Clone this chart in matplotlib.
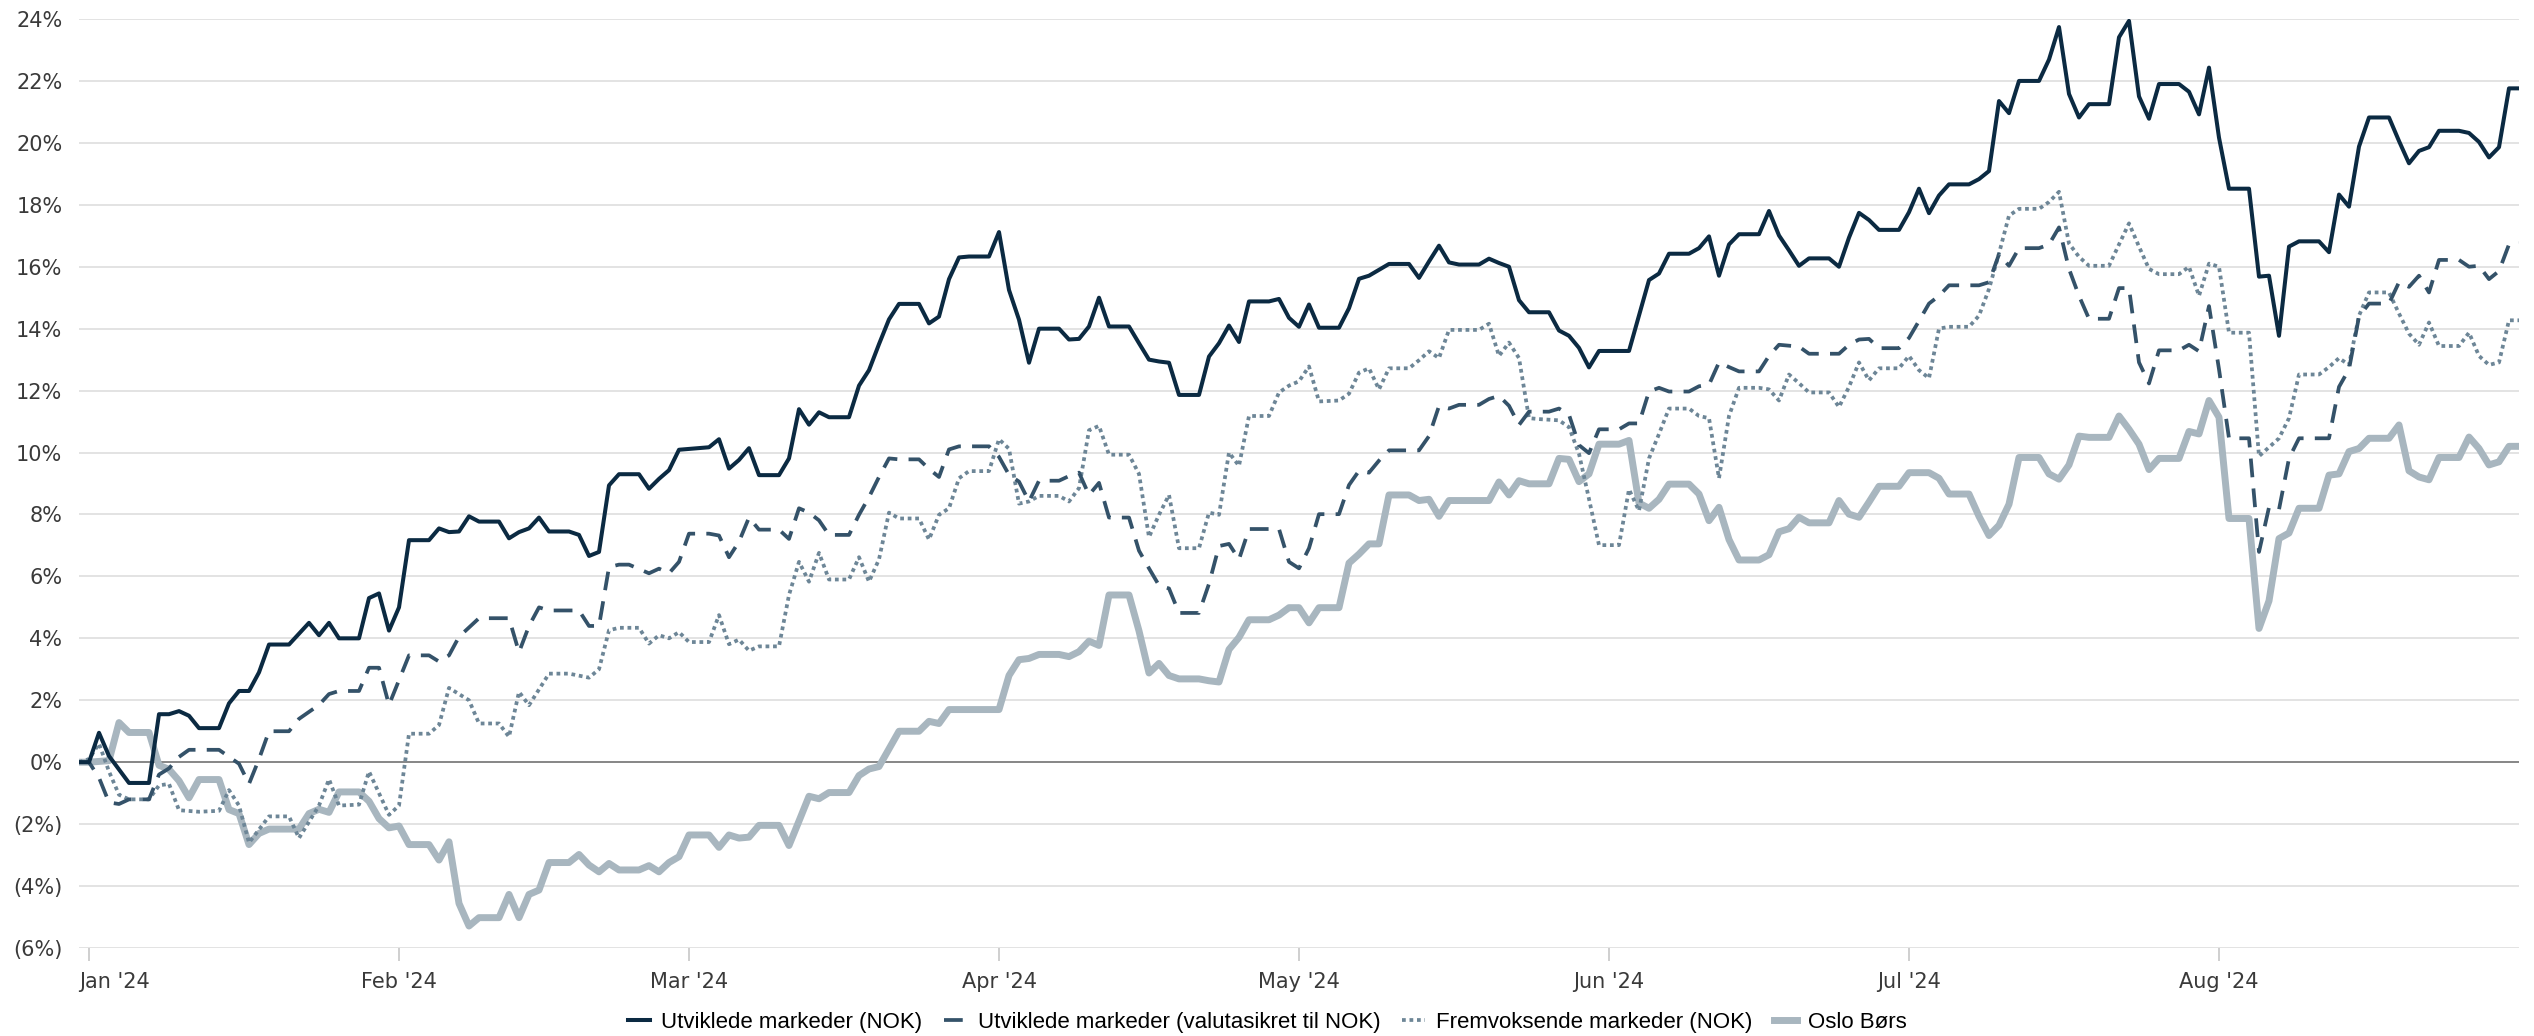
import numpy as np
import matplotlib
matplotlib.use("Agg")
import matplotlib.pyplot as plt
import matplotlib.dates as mdates
from matplotlib.ticker import FuncFormatter
from matplotlib.transforms import ScaledTranslation

# days counted from 1 Jan 2024, values in percent
utv_days = [-1, 0, 1, 2, 4, 6, 7, 8, 9, 10, 11, 13, 14, 15, 16, 17, 18, 20, 21, 22, 23, 24, 25, 27,
            28, 29, 30, 31, 32, 34, 35, 36, 37, 38, 39, 41, 42, 43, 44, 45, 46, 48, 49, 50, 51, 52,
            53, 55, 56, 57, 58, 59, 62, 63, 64, 65, 66, 67, 69, 70, 71, 72, 73, 74, 76, 77, 78, 79,
            80, 81, 83, 84, 85, 86, 87, 88, 90, 91, 92, 93, 94, 95, 97, 98, 99, 100, 101, 102, 104,
            105, 106, 107, 108, 109, 111, 112, 113, 114, 115, 116, 118, 119, 120, 121, 122, 123,
            125, 126, 127, 128, 129, 130, 132, 133, 134, 135, 136, 137, 139, 140, 141, 142, 143,
            144, 146, 147, 148, 149, 150, 151, 154, 155, 156, 157, 158, 160, 161, 162, 163, 164,
            165, 167, 168, 169, 170, 171, 172, 174, 175, 176, 177, 178, 179, 181, 182, 183, 184,
            185, 186, 188, 189, 190, 191, 192, 193, 195, 196, 197, 198, 199, 200, 202, 203, 204,
            205, 206, 207, 209, 210, 211, 212, 213, 214, 216, 217, 218, 219, 220, 221, 223, 224,
            225, 226, 227, 228, 230, 231, 232, 233, 234, 235, 237, 238, 239, 240, 241, 242, 243]
utv_vals = [0, 0, 0.95, 0.2, -0.67, -0.67, 1.55, 1.55, 1.65, 1.5, 1.1, 1.1, 1.9, 2.3, 2.3, 2.9, 3.8,
            3.8, 4.15, 4.5, 4.1, 4.5, 4.0, 4.0, 5.3, 5.45, 4.25, 5.0, 7.17, 7.17, 7.55, 7.43, 7.45,
            7.94, 7.77, 7.77, 7.23, 7.43, 7.55, 7.9, 7.45, 7.45, 7.34, 6.66, 6.79, 8.94, 9.3, 9.3,
            8.83, 9.15, 9.43, 10.09, 10.17, 10.43, 9.48, 9.76, 10.14, 9.27, 9.27, 9.81, 11.4, 10.9,
            11.3, 11.14, 11.14, 12.16, 12.66, 13.5, 14.3, 14.8, 14.8, 14.17, 14.39, 15.6, 16.3,
            16.33, 16.33, 17.12, 15.25, 14.29, 12.9, 14.0, 14.0, 13.65, 13.67, 14.07, 15.0, 14.07,
            14.07, 13.53, 13.0, 12.94, 12.9, 11.86, 11.86, 13.1, 13.53, 14.1, 13.57, 14.88, 14.88,
            14.96, 14.35, 14.06, 14.78, 14.03, 14.03, 14.66, 15.61, 15.71, 15.9, 16.09, 16.09,
            15.64, 16.17, 16.68, 16.14, 16.07, 16.07, 16.26, 16.12, 16.0, 14.92, 14.53, 14.53,
            13.94, 13.77, 13.38, 12.75, 13.28, 13.28, 14.42, 15.57, 15.78, 16.42, 16.42, 16.6,
            16.98, 15.71, 16.72, 17.05, 17.05, 17.8, 17.01, 16.53, 16.03, 16.27, 16.27, 16.0,
            16.94, 17.74, 17.51, 17.19, 17.19, 17.76, 18.52, 17.73, 18.3, 18.66, 18.66, 18.83,
            19.09, 21.35, 20.96, 22.0, 22.0, 22.69, 23.74, 21.58, 20.82, 21.25, 21.25, 23.41,
            23.94, 21.5, 20.78, 21.9, 21.9, 21.65, 20.92, 22.43, 20.17, 18.52, 18.52, 15.68,
            15.71, 13.77, 16.65, 16.82, 16.82, 16.47, 18.33, 17.94, 19.88, 20.82, 20.82, 20.06,
            19.34, 19.74, 19.86, 20.39, 20.39, 20.32, 20.03, 19.53, 19.86, 21.76, 21.76]

hed_days = [-1, 0, 1, 2, 3, 4, 6, 7, 8, 9, 10, 13, 15, 16, 17, 18, 20, 21, 23, 24, 25, 27, 28, 29,
            30, 32, 34, 35, 36, 37, 39, 42, 43, 44, 45, 46, 49, 50, 51, 52, 53, 54, 56, 57, 58, 59,
            60, 62, 63, 64, 65, 66, 67, 69, 70, 71, 72, 73, 74, 76, 77, 78, 79, 80, 81, 83, 84, 85,
            86, 87, 90, 91, 92, 93, 94, 95, 97, 98, 99, 100, 101, 102, 104, 105, 106, 107, 108,
            109, 111, 112, 113, 114, 115, 116, 119, 120, 121, 122, 123, 125, 126, 127, 128, 129,
            130, 133, 134, 135, 136, 137, 139, 140, 141, 142, 143, 144, 146, 147, 148, 149, 150,
            151, 153, 154, 155, 156, 157, 158, 160, 161, 162, 163, 164, 165, 167, 168, 169, 171,
            172, 175, 176, 177, 178, 179, 181, 182, 183, 184, 185, 186, 189, 190, 191, 192, 193,
            195, 196, 197, 198, 199, 200, 202, 203, 204, 205, 206, 207, 209, 210, 211, 212, 213,
            214, 216, 217, 218, 219, 220, 221, 224, 225, 226, 227, 228, 230, 231, 232, 233, 234,
            235, 237, 238, 239, 240, 241, 242, 243]
hed_vals = [0, 0, -0.5, -1.3, -1.35, -1.2, -1.2, -0.4, -0.2, 0.17, 0.4, 0.4, -0.05, -0.7, 0.1, 1.0,
            1.0, 1.4, 1.85, 2.2, 2.3, 2.3, 3.05, 3.05, 1.85, 3.45, 3.45, 3.25, 3.45, 4.05, 4.65,
            4.65, 3.55, 4.4, 5.0, 4.9, 4.9, 4.4, 4.4, 6.3, 6.38, 6.38, 6.1, 6.25, 6.1, 6.47, 7.38,
            7.38, 7.32, 6.62, 7.12, 7.9, 7.51, 7.51, 7.21, 8.2, 8.06, 7.81, 7.34, 7.34, 7.99, 8.56,
            9.21, 9.81, 9.78, 9.78, 9.47, 9.21, 10.1, 10.2, 10.2, 9.86, 9.28, 9.06, 8.42, 9.09,
            9.09, 9.24, 9.35, 8.63, 9.02, 7.9, 7.9, 6.83, 6.26, 5.71, 5.61, 4.82, 4.82, 5.76, 6.98,
            7.05, 6.55, 7.53, 7.53, 6.47, 6.26, 6.91, 8.01, 8.01, 8.95, 9.41, 9.35, 9.74, 10.07,
            10.07, 10.53, 11.5, 11.42, 11.54, 11.54, 11.73, 11.83, 11.51, 10.89, 11.32, 11.32,
            11.42, 11.22, 10.24, 9.98, 10.75, 10.75, 10.94, 10.94, 11.97, 12.09, 11.97, 11.97,
            12.14, 12.19, 12.91, 12.76, 12.62, 12.62, 13.12, 13.48, 13.42, 13.19, 13.19, 13.48,
            13.65, 13.67, 13.37, 13.37, 13.7, 14.25, 14.81, 15.06, 15.4, 15.4, 15.5, 16.4, 16.03,
            16.6, 16.6, 16.72, 17.27, 15.93, 15.06, 14.32, 14.32, 15.31, 15.31, 12.91, 12.23,
            13.3, 13.3, 13.48, 13.27, 14.73, 12.69, 10.46, 10.46, 6.79, 8.23, 8.16, 9.81, 10.46,
            10.46, 12.12, 12.69, 14.39, 14.81, 14.81, 15.5, 15.35, 15.71, 15.17, 16.22, 16.22,
            16.0, 16.03, 15.6, 15.86, 16.72, 16.76]

frem_days = [-1, 0, 1, 2, 3, 4, 6, 7, 8, 9, 11, 13, 14, 15, 16, 18, 20, 21, 23, 24, 25, 27, 28, 30,
             31, 32, 34, 35, 36, 38, 39, 41, 42, 43, 44, 46, 48, 50, 51, 52, 53, 55, 56, 57, 58,
             59, 60, 62, 63, 64, 65, 66, 67, 69, 70, 71, 72, 73, 74, 76, 77, 78, 79, 80, 81, 83,
             84, 85, 86, 87, 88, 90, 91, 92, 93, 94, 95, 97, 98, 99, 100, 101, 102, 104, 105, 106,
             107, 108, 109, 111, 112, 113, 114, 115, 116, 118, 119, 120, 121, 122, 123, 125, 126,
             127, 128, 129, 130, 132, 133, 134, 135, 136, 139, 140, 141, 142, 143, 144, 145, 147,
             148, 149, 150, 151, 153, 154, 155, 156, 157, 158, 160, 161, 162, 163, 164, 165, 167,
             168, 169, 170, 171, 172, 174, 175, 176, 177, 178, 179, 181, 182, 183, 184, 185, 186,
             188, 189, 190, 191, 192, 193, 195, 196, 197, 198, 199, 200, 202, 203, 204, 205, 206,
             207, 209, 210, 211, 212, 213, 214, 216, 217, 218, 219, 220, 221, 223, 224, 225, 226,
             227, 228, 230, 231, 232, 233, 234, 235, 237, 238, 239, 240, 241, 242, 243]
frem_vals = [0, 0.1, 0.6, -0.3, -1.05, -1.2, -1.2, -0.75, -0.7, -1.55, -1.6, -1.57, -0.9, -1.4,
             -2.6, -1.75, -1.75, -2.45, -1.4, -0.55, -1.4, -1.37, -0.3, -1.7, -1.4, 0.92, 0.92,
             1.2, 2.4, 2.0, 1.25, 1.25, 0.82, 2.27, 1.84, 2.86, 2.86, 2.73, 3.0, 4.26, 4.34, 4.34,
             3.83, 4.1, 4.0, 4.2, 3.88, 3.88, 4.75, 3.81, 3.96, 3.6, 3.74, 3.74, 5.4, 6.47, 5.83,
             6.76, 5.9, 5.9, 6.62, 5.83, 6.55, 8.06, 7.87, 7.87, 7.19, 7.99, 8.2, 9.17, 9.4, 9.4,
             10.43, 10.12, 8.35, 8.42, 8.6, 8.6, 8.42, 8.85, 10.72, 10.86, 9.93, 9.93, 9.31, 7.27,
             7.99, 8.63, 6.91, 6.91, 8.06, 7.99, 10.0, 9.57, 11.18, 11.18, 11.94, 12.16, 12.3,
             12.78, 11.65, 11.68, 11.9, 12.58, 12.72, 12.04, 12.72, 12.72, 12.98, 13.27, 13.05,
             13.96, 13.96, 14.16, 13.12, 13.55, 13.05, 11.11, 11.08, 11.04, 10.82, 9.96, 8.5,
             7.01, 7.01, 8.81, 8.12, 9.81, 10.6, 11.42, 11.42, 11.18, 11.11, 9.17, 11.18, 12.09,
             12.09, 12.04, 11.68, 12.52, 12.24, 11.94, 11.94, 11.47, 12.12, 12.91, 12.33, 12.72,
             12.72, 13.12, 12.66, 12.4, 14.0, 14.06, 14.06, 14.42, 15.28, 16.43, 17.65, 17.87,
             17.87, 18.09, 18.42, 16.75, 16.32, 16.03, 16.03, 16.72, 17.4, 16.65, 15.93, 15.76,
             15.76, 16.0, 15.06, 16.1, 16.0, 13.87, 13.87, 9.88, 10.17, 10.46, 11.11, 12.52,
             12.52, 12.76, 13.05, 12.83, 14.42, 15.17, 15.17, 14.49, 13.84, 13.48, 14.2, 13.44,
             13.44, 13.87, 13.12, 12.83, 12.91, 14.27, 14.27]

oslo_days = [-1, 0, 2, 3, 4, 6, 7, 8, 9, 10, 11, 13, 14, 15, 16, 17, 18, 21, 22, 23, 24, 25, 27, 28,
             29, 30, 31, 32, 34, 35, 36, 37, 38, 39, 41, 42, 43, 44, 45, 46, 48, 49, 50, 51, 52, 53,
             55, 56, 57, 58, 59, 60, 62, 63, 64, 65, 66, 67, 69, 70, 71, 72, 73, 74, 76, 77, 78, 79,
             80, 81, 83, 84, 85, 86, 91, 92, 93, 94, 95, 97, 98, 99, 100, 101, 102, 104, 105, 106,
             107, 108, 109, 111, 112, 113, 114, 115, 116, 118, 119, 120, 121, 122, 123, 125, 126,
             127, 128, 129, 130, 132, 133, 134, 135, 136, 140, 141, 142, 143, 144, 146, 147, 148,
             149, 150, 151, 153, 154, 155, 156, 157, 158, 160, 161, 162, 163, 164, 165, 167, 168,
             169, 170, 171, 172, 174, 175, 176, 177, 178, 179, 181, 182, 184, 185, 186, 188, 189,
             190, 191, 192, 193, 195, 196, 197, 198, 199, 200, 202, 203, 204, 205, 206, 207, 209,
             210, 211, 212, 213, 214, 216, 217, 218, 219, 220, 221, 223, 224, 225, 226, 227, 228,
             230, 231, 232, 233, 234, 235, 237, 238, 239, 240, 241, 242, 243]
oslo_vals = [0, 0, 0.05, 1.28, 0.96, 0.96, -0.1, -0.23, -0.6, -1.15, -0.56, -0.56, -1.53, -1.66,
             -2.66, -2.3, -2.16, -2.16, -1.66, -1.52, -1.62, -0.96, -0.96, -1.26, -1.82, -2.12,
             -2.06, -2.66, -2.66, -3.16, -2.57, -4.56, -5.29, -5.02, -5.02, -4.27, -5.02, -4.27,
             -4.13, -3.24, -3.24, -2.98, -3.32, -3.54, -3.27, -3.48, -3.48, -3.34, -3.54, -3.24,
             -3.05, -2.35, -2.35, -2.75, -2.35, -2.45, -2.42, -2.04, -2.04, -2.69, -1.9, -1.1,
             -1.18, -0.98, -0.98, -0.43, -0.22, -0.14, 0.43, 1.0, 1.0, 1.32, 1.25, 1.7, 1.7, 2.8,
             3.31, 3.35, 3.48, 3.48, 3.41, 3.57, 3.91, 3.77, 5.4, 5.4, 4.24, 2.88, 3.19, 2.8, 2.69,
             2.69, 2.63, 2.59, 3.64, 4.03, 4.6, 4.6, 4.75, 4.99, 4.99, 4.5, 4.99, 4.99, 6.43, 6.72,
             7.05, 7.05, 8.63, 8.63, 8.45, 8.49, 7.94, 8.45, 8.45, 9.05, 8.63, 9.09, 8.99, 8.99,
             9.81, 9.78, 9.06, 9.31, 10.27, 10.27, 10.39, 8.37, 8.2, 8.49, 8.98, 8.98, 8.66, 7.8,
             8.23, 7.19, 6.53, 6.53, 6.7, 7.44, 7.54, 7.91, 7.73, 7.73, 8.45, 8.01, 7.91, 8.4,
             8.91, 8.91, 9.35, 9.35, 9.17, 8.66, 8.66, 7.94, 7.32, 7.65, 8.33, 9.84, 9.84, 9.31,
             9.14, 9.6, 10.53, 10.49, 10.49, 11.18, 10.75, 10.27, 9.45, 9.81, 9.81, 10.68, 10.6,
             11.68, 11.14, 7.87, 7.87, 4.32, 5.21, 7.22, 7.4, 8.2, 8.2, 9.27, 9.31, 10.03, 10.13,
             10.46, 10.46, 10.89, 9.41, 9.21, 9.12, 9.84, 9.84, 10.5, 10.13, 9.6, 9.7, 10.2, 10.2]

labels = ["Utviklede markeder (NOK)", "Utviklede markeder (valutasikret til NOK)",
          "Fremvoksende markeder (NOK)", "Oslo Børs"]
y_ticks = list(range(-6, 25, 2))

start = np.datetime64("2024-01-01")


def to_dates(days):
    return start + np.array(days).astype("timedelta64[D]")


fig = plt.figure(figsize=(25.34, 10.36), dpi=100)
ax = fig.add_axes([79 / 2534, 1 - 948 / 1036, (2519 - 79) / 2534, (948 - 19) / 1036])

ax.plot(to_dates(utv_days), utv_vals, color="#0b2a42", lw=2.9, label=labels[0], zorder=5)
ax.plot(to_dates(hed_days), hed_vals, color="#345269", lw=2.7, ls=(0, (5, 3)), label=labels[1], zorder=4)
ax.plot(to_dates(frem_days), frem_vals, color="#6d8697", lw=2.7, ls=(0, (1, 1)), label=labels[2], zorder=3)
ax.plot(to_dates(oslo_days), oslo_vals, color="#a8b6bf", lw=5, label=labels[3], zorder=2)

ax.axhline(0, color="#808080", lw=1.3, zorder=1)

ax.set_ylim(-6, 24)
ax.set_xlim(start - np.timedelta64(1, "D"), start + np.timedelta64(243, "D"))
ax.set_yticks(y_ticks)
ax.yaxis.set_major_formatter(FuncFormatter(lambda v, p: f"({abs(v):.0f}%)" if v < 0 else f"{v:.0f}%"))
ax.grid(axis="y", color="#e3e3e3", lw=1.4)
ax.set_axisbelow(True)

ax.xaxis.set_major_locator(mdates.MonthLocator())
ax.xaxis.set_major_formatter(mdates.DateFormatter("%b '%y"))

for s in ax.spines.values():
    s.set_visible(False)
ax.tick_params(axis="y", length=0, pad=12, labelsize=15, labelcolor="#3a3a3a")
ax.tick_params(axis="x", length=9, width=1.3, color="#cccccc", pad=8, labelsize=15,
               labelcolor="#3a3a3a")

fig.legend(loc="center", bbox_to_anchor=(0.5, 0.013), ncol=4, frameon=False,
           handlelength=1.0, columnspacing=1.0, handletextpad=0.5,
           prop={"family": ["Liberation Sans", "DejaVu Sans"], "size": 16})

# first month label sits to the right of its tick, as in the original
fig.canvas.draw()
first = ax.xaxis.get_major_ticks()[0].label1
first.set_horizontalalignment("left")
first.set_transform(first.get_transform() + ScaledTranslation(-0.1, 0, fig.dpi_scale_trans))

fig.savefig("out.png", dpi=100)
